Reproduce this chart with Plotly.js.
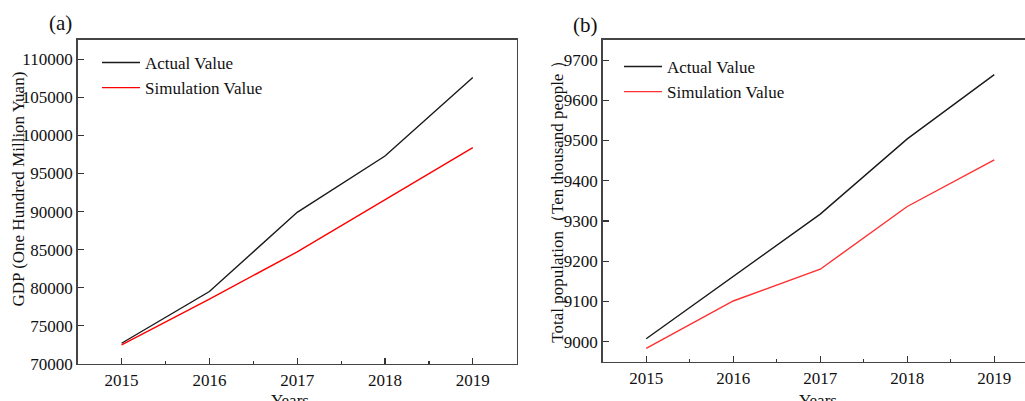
<!DOCTYPE html>
<html>
<head>
<meta charset="utf-8">
<script src="https://cdn.plot.ly/plotly-3.0.1.min.js"></script>
<style>html,body{margin:0;padding:0;background:#fff;}#chart{width:1025px;height:401px;}</style>
</head>
<body>
<div id="chart"></div>
<script>
var years = [2015, 2016, 2017, 2018, 2019];
var gdpActual = [72700, 79500, 89900, 97300, 107600];
var gdpSimulation = [72500, 78500, 84700, 91500, 98400];
var popActual = [9007, 9161, 9317, 9504, 9664];
var popSimulation = [8983, 9101, 9180, 9336, 9452];
var seriesNames = ['Actual Value', 'Simulation Value'];
var panelLabels = ['(a)', '(b)'];
var xTitle = 'Years';
var yTitleA = 'GDP (One Hundred Million Yuan)';
var yTitleB = 'Total population（Ten thousand people ）';

var FONT = '"Liberation Serif", "Times New Roman", serif';
var W = 1025, H = 401;
function px(x){ return x / W; }
function py(y){ return (H - y) / H; }

var traces = [
  {x: years, y: gdpActual, name: seriesNames[0], mode: 'lines', line: {color: '#1a1a1a', width: 1.4}, xaxis: 'x', yaxis: 'y', legend: 'legend'},
  {x: years, y: gdpSimulation, name: seriesNames[1], mode: 'lines', line: {color: '#ff0000', width: 1.4}, xaxis: 'x', yaxis: 'y', legend: 'legend'},
  {x: years, y: popActual, name: seriesNames[0], mode: 'lines', line: {color: '#1a1a1a', width: 1.4}, xaxis: 'x2', yaxis: 'y2', legend: 'legend2'},
  {x: years, y: popSimulation, name: seriesNames[1], mode: 'lines', line: {color: '#ff3030', width: 1.4}, xaxis: 'x2', yaxis: 'y2', legend: 'legend2'}
];

var axCommon = {
  showgrid: false, zeroline: false, showline: true, linecolor: '#444', linewidth: 1.6,
  ticks: 'inside', tickcolor: '#333', tickwidth: 1.2, ticklen: 6,
  tickfont: {family: FONT, size: 17, color: '#111'}
};
function ax(extra){ return Object.assign({}, axCommon, extra); }

var legendFont = {family: FONT, size: 17, color: '#111'};

var layout = {
  width: W, height: H,
  margin: {l: 0, r: 0, t: 0, b: 0},
  paper_bgcolor: '#fff', plot_bgcolor: '#fff',
  font: {family: FONT, color: '#111'},
  showlegend: true,
  xaxis: ax({domain: [px(77.7), px(516.7)], range: [2014.5, 2019.5], tickvals: years, mirror: true,
             minor: {ticks: 'inside', ticklen: 3, tickcolor: '#333', dtick: 0.5, tick0: 2014.5}, anchor: 'y'}),
  yaxis: ax({domain: [py(363.8), py(39.5)], range: [70000, 112600], dtick: 5000, tick0: 70000, tickformat: 'd', mirror: true, anchor: 'x'}),
  xaxis2: ax({domain: [px(602.7), 1], range: [2014.5, 2019.353], tickvals: years, mirror: true,
             minor: {ticks: 'inside', ticklen: 3, tickcolor: '#333', dtick: 0.5, tick0: 2014.5}, anchor: 'y2'}),
  yaxis2: ax({domain: [py(361.7), py(40)], range: [8950, 9750], dtick: 100, tick0: 9000, tickformat: 'd', mirror: false, anchor: 'x2'}),
  legend: {x: px(97), y: py(45), xanchor: 'left', yanchor: 'top', bgcolor: 'rgba(0,0,0,0)', itemwidth: 38,
           font: legendFont, tracegroupgap: 0},
  legend2: {x: px(619), y: py(49), xanchor: 'left', yanchor: 'top', bgcolor: 'rgba(0,0,0,0)', itemwidth: 38,
           font: legendFont, tracegroupgap: 0},
  annotations: [
    {text: panelLabels[0], xref: 'paper', yref: 'paper', x: px(60), y: py(23), xanchor: 'center', yanchor: 'middle', showarrow: false, font: {family: FONT, size: 21, color: '#111'}},
    {text: panelLabels[1], xref: 'paper', yref: 'paper', x: px(585), y: py(25), xanchor: 'center', yanchor: 'middle', showarrow: false, font: {family: FONT, size: 21, color: '#111'}},
    {text: yTitleA, xref: 'paper', yref: 'paper', x: px(18.5), y: py(189), xanchor: 'center', yanchor: 'middle', textangle: -90, showarrow: false, font: {family: FONT, size: 17, color: '#111'}},
    {text: yTitleB, xref: 'paper', yref: 'paper', x: px(556.7), y: py(198), xanchor: 'center', yanchor: 'middle', textangle: -90, showarrow: false, font: {family: FONT, size: 17, color: '#111'}},
    {text: xTitle, xref: 'paper', yref: 'paper', x: px(290), y: py(400), xanchor: 'center', yanchor: 'middle', showarrow: false, font: {family: FONT, size: 17, color: '#111'}},
    {text: xTitle, xref: 'paper', yref: 'paper', x: px(818), y: py(400), xanchor: 'center', yanchor: 'middle', showarrow: false, font: {family: FONT, size: 17, color: '#111'}}
  ]
};

Plotly.newPlot('chart', traces, layout, {staticPlot: true, displayModeBar: false});
</script>
</body>
</html>
